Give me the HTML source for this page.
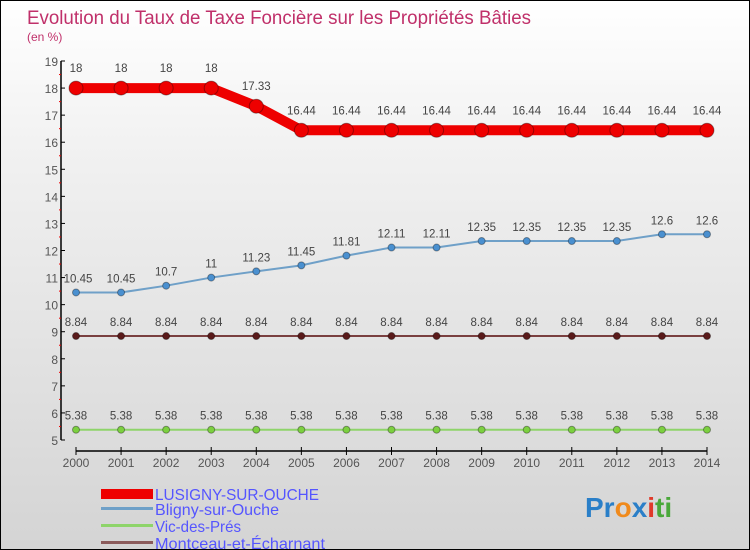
<!DOCTYPE html>
<html><head><meta charset="utf-8"><style>
body{margin:0}
#c{position:relative;width:750px;height:550px;box-sizing:border-box;border:1px solid #000;background:linear-gradient(#fff 0%,#f0f0f0 30%,#d4d4d4 100%);font-family:"Liberation Sans",sans-serif;overflow:hidden}
svg text{font-family:"Liberation Sans",sans-serif}
</style></head><body>
<div id="c">
<svg id="s" width="750" height="550">
<text x="26" y="23" font-size="19" fill="#c0306a" textLength="504" lengthAdjust="spacingAndGlyphs">Evolution du Taux de Taxe Foncière sur les Propriétés Bâties</text>
<text x="26" y="40" font-size="12" fill="#c0306a">(en %)</text>
<g id="legend">
<rect x="100" y="488" width="52" height="10" fill="#e00"/>
<text x="154" y="499" font-size="16" fill="#5555ff" textLength="164" lengthAdjust="spacingAndGlyphs">LUSIGNY-SUR-OUCHE</text>
<rect x="100" y="506" width="52" height="3" fill="#6fa0c8"/>
<text x="154" y="514" font-size="16" fill="#5555ff" textLength="124" lengthAdjust="spacingAndGlyphs">Bligny-sur-Ouche</text>
<rect x="100" y="523" width="52" height="3" fill="#8ed46a"/>
<text x="154" y="531" font-size="16" fill="#5555ff" textLength="86" lengthAdjust="spacingAndGlyphs">Vic-des-Prés</text>
<rect x="100" y="540" width="52" height="3" fill="#8a5a5a"/>
<text x="154" y="548" font-size="16" fill="#5555ff" textLength="170" lengthAdjust="spacingAndGlyphs">Montceau-et-Écharnant</text>
</g>
<text x="584" y="516" font-size="28" font-weight="bold"><tspan fill="#2a7fc8">Pr</tspan><tspan fill="#f08a1c">o</tspan><tspan fill="#2a7fc8">x</tspan><tspan fill="#e03a2a">i</tspan><tspan fill="#4aa83a">ti</tspan></text>
</svg>
</div>
<script>
const years=[2000,2001,2002,2003,2004,2005,2006,2007,2008,2009,2010,2011,2012,2013,2014];
const lusigny=[18,18,18,18,17.33,16.44,16.44,16.44,16.44,16.44,16.44,16.44,16.44,16.44,16.44];
const bligny=[10.45,10.45,10.7,11,11.23,11.45,11.81,12.11,12.11,12.35,12.35,12.35,12.35,12.6,12.6];
const montceau=[8.84,8.84,8.84,8.84,8.84,8.84,8.84,8.84,8.84,8.84,8.84,8.84,8.84,8.84,8.84];
const vic=[5.38,5.38,5.38,5.38,5.38,5.38,5.38,5.38,5.38,5.38,5.38,5.38,5.38,5.38,5.38];
const yTicks=[5,6,7,8,9,10,11,12,13,14,15,16,17,18,19];
const NS="http://www.w3.org/2000/svg";
const s=document.getElementById('s');
const X=i=>75+i*(706-75)/(years.length-1);
const Y=v=>439-(v-5)*(439-60)/14;
function mk(t,a,p){const e=document.createElementNS(NS,t);for(const k in a)e.setAttribute(k,a[k]);(p||s).appendChild(e);return e;}
const ax=mk('g',{});


const yl=mk('line',{x1:60,y1:60,x2:60,y2:439,stroke:'#000','stroke-width':1.5},ax);


yTicks.forEach(v=>{
 mk('line',{x1:60,x2:64,y1:Y(v),y2:Y(v),stroke:'#000'},ax);
 if(v<19)mk('line',{x1:58,x2:60,y1:Y(v+0.5),y2:Y(v+0.5),stroke:'#e00'},ax);
 const t=mk('text',{x:57,y:Y(v)+5,'font-size':12,fill:'#555','text-anchor':'end'},ax);
 t.textContent=v;
 
 
});
const xl=mk('line',{x1:75,y1:450,x2:706,y2:450,stroke:'#000','stroke-width':1.5},ax);


years.forEach((y,i)=>{
 mk('line',{x1:X(i),x2:X(i),y1:446,y2:454,stroke:'#000'},ax);
 const t=mk('text',{x:X(i),y:466,'font-size':12,fill:'#555','text-anchor':'middle'},ax);
 t.textContent=y;
 
 
});
function series(d,name,col,w,r,fill,lab){
 const g=mk('g',{});
 
 
 const l=mk('polyline',{points:d.map((v,i)=>X(i)+','+Y(v)).join(' '),fill:'none',stroke:col,'stroke-width':w},g);
 
 
 d.forEach((v,i)=>{
  const c=mk('circle',{cx:X(i),cy:Y(v),r:r,fill:fill,stroke:'rgba(0,0,0,0.35)','stroke-width':1},g);
  
  
  const t=mk('text',{x:Math.max(X(i),62+String(v).length*3),y:Y(v)-lab,'font-size':11.5,fill:'#444','text-anchor':'middle'},g);
  t.textContent=v;
  
  
 });
}
series(vic,'vic','#8ed46a',2,3.5,'#7cd040',10);
series(montceau,'montceau','#7a4040',2,3.5,'#5a1a1a',10);
series(bligny,'bligny','#6fa0c8',2,3.5,'#4a90d0',10);
series(lusigny,'lusigny','#e00',10,7,'#e00',16);
</script>
</body></html>
